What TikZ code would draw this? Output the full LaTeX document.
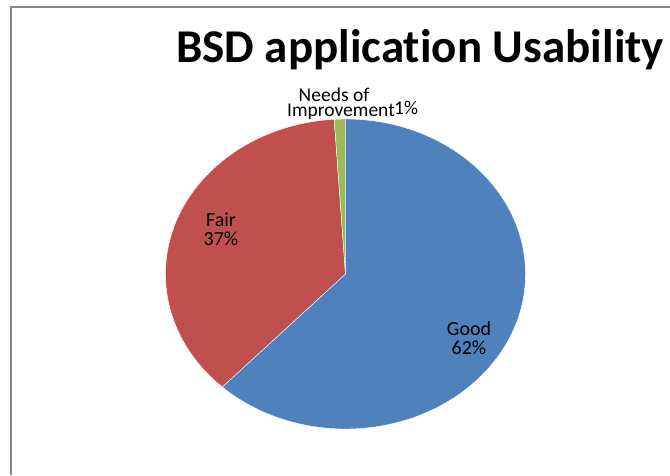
\documentclass[tikz,border=0pt]{standalone}
\usepackage{fontspec}
\setmainfont[Ligatures=NoCommon]{Carlito}
\definecolor{goodblue}{RGB}{79,129,189}
\definecolor{fairred}{RGB}{192,80,77}
\definecolor{needgreen}{RGB}{155,187,89}
\definecolor{framegray}{RGB}{134,134,134}
\begin{document}
\begin{tikzpicture}[x=1pt, y=1pt,
	slice/.style={draw=white, line width=.4pt},
	lbl/.style={font=\fontsize{20}{19}\selectfont, align=center, inner sep=0pt}]
	\useasboundingbox (0,0) rectangle (670,475);
	\draw[framegray, line width=1.2pt] (11,0)--(11,468)--(670,468); % khung
	\node[font=\bfseries\fontsize{47}{47}\selectfont, anchor=base] (title) at (420,412) {BSD application Usability};
	\coordinate (O) at (345.5,201); % tam
	\filldraw[slice, fill=goodblue] (O) -- +(90:180 and 155) arc[start angle=90, end angle=-133.2, x radius=180, y radius=155] -- cycle;
	\filldraw[slice, fill=fairred] (O) -- +(226.8:180 and 155) arc[start angle=226.8, end angle=93.6, x radius=180, y radius=155] -- cycle;
	\filldraw[slice, fill=needgreen] (O) -- +(93.6:180 and 155) arc[start angle=93.6, end angle=90, x radius=180, y radius=155] -- cycle;
	\node[lbl] (good) at (469,137) {Good\\62\%};
	\node[lbl] (fair) at (221,245.5) {Fair\\37\%};
	\node[lbl, font=\fontsize{19.5}{15.5}\selectfont, anchor=base] (needs) at (341,358) {Needs of\kern14pt\\Improvement};
	\node[lbl, font=\fontsize{19.5}{15.5}\selectfont, anchor=base west, xshift=-1pt, yshift=2pt] (pct) at (needs.base east) {1\%};
\end{tikzpicture}
\end{document}
